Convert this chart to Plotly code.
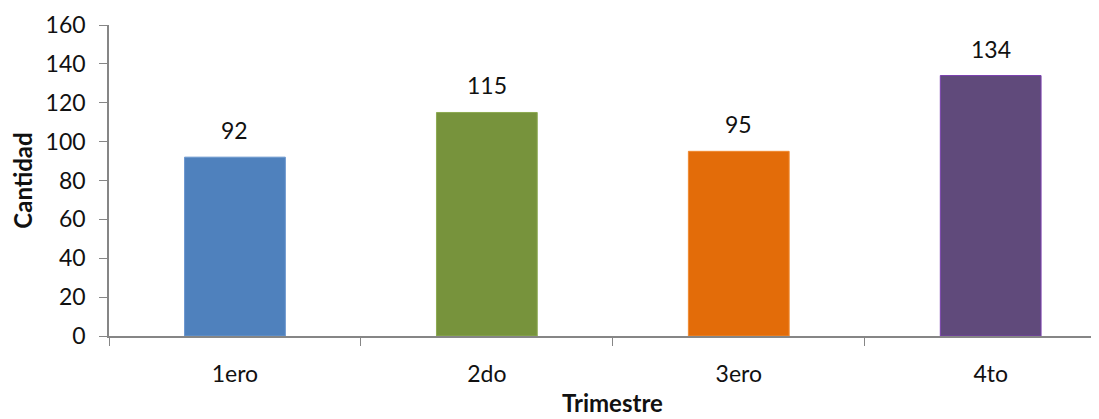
import plotly.graph_objects as go

categories = ["1ero", "2do", "3ero", "4to"]
values = [92, 115, 95, 134]
colors = ["#4F81BD", "#77933C", "#E36C09", "#604A7B"]
outline = ["#6A96CE", "#8DAA52", "#F08A30", "#7A3FB0"]
y_ticks = [0, 20, 40, 60, 80, 100, 120, 140, 160]

FONT = "Lato"
TXT = "#111111"

# page body has an 8px margin, so the figure is sized/offset to compensate
OFF = 8
W, H = 1099 - OFF, 419 - OFF
L, R, T, B = 109 - OFF, 0, 25 - OFF, 83
plot_w = W - L - R
plot_h = H - T - B

fig = go.Figure()
fig.add_trace(go.Bar(
    x=categories, y=values,
    marker=dict(color=colors, line=dict(color=outline, width=1)),
    width=0.4,
    showlegend=False,
    hoverinfo="x+y",
))

for c, v in zip(categories, values):
    fig.add_annotation(x=c, y=v, text=str(v), showarrow=False,
                       yshift=27, font=dict(family=FONT, size=23, color=TXT))

fig.add_annotation(x=(612 - 109) / plot_w, y=-((402 - 336) / plot_h),
                   xref="paper", yref="paper", text="<b>Trimestre</b>",
                   xanchor="center", yanchor="middle",
                   showarrow=False, font=dict(family=FONT, size=24, color=TXT))

fig.update_layout(
    width=W, height=H,
    margin=dict(l=L, r=R, t=T, b=B, autoexpand=False),
    plot_bgcolor="white", paper_bgcolor="white",
    font=dict(family=FONT, color=TXT),
)

fig.update_xaxes(
    type="category", range=[-0.5, 3.43], automargin=False,
    showline=True, linecolor="#868686", linewidth=1.5,
    ticks="outside", tickson="boundaries", ticklen=8, tickcolor="#868686",
    tickfont=dict(family=FONT, size=23, color=TXT),
    ticklabelstandoff=17,
    showgrid=False, zeroline=False,
)
fig.update_yaxes(
    range=[0, 160], tickvals=y_ticks, automargin=False,
    showline=True, linecolor="#868686", linewidth=1.5,
    ticks="outside", ticklen=8, tickcolor="#868686",
    tickfont=dict(family=FONT, size=23, color=TXT),
    ticklabelstandoff=9,
    showgrid=False, zeroline=False,
    title=dict(text="<b>Cantidad</b>", font=dict(family=FONT, size=24, color=TXT), standoff=12),
)

fig.write_html("out.html")
